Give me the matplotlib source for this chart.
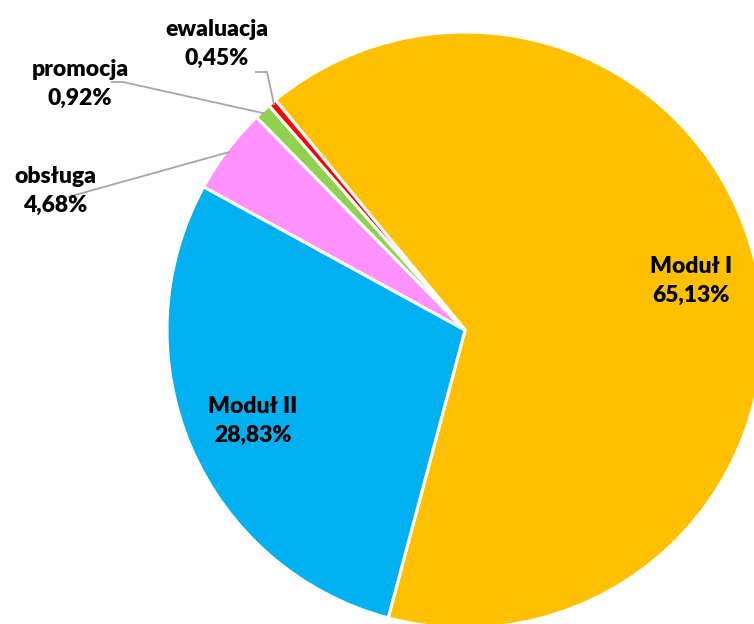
import numpy as np
import matplotlib
matplotlib.use("Agg")
import matplotlib.pyplot as plt

# udział poszczególnych części budżetu (%)
kategorie = ["Moduł I", "Moduł II", "obsługa", "promocja", "ewaluacja"]
udzialy = [65.13, 28.83, 4.68, 0.92, 0.45]
etykiety = ["65,13%", "28,83%", "4,68%", "0,92%", "0,45%"]
kolory = ["#FFC000", "#00B0F0", "#FF92FF", "#92D050", "#FF0000"]

plt.rcParams["font.family"] = ["Lato", "DejaVu Sans"]

W, H, R = 754, 624, 298
cx, cy = 465, 330

fig = plt.figure(figsize=(W / 100, H / 100), dpi=100)
ax = fig.add_axes([0, 0, 1, 1])

wedges, _ = ax.pie(udzialy, colors=kolory, startangle=129.5, counterclock=False,
                   radius=1.0, wedgeprops=dict(edgecolor="white", linewidth=2.2),
                   frame=True)
ax.set_xlim(-cx / R, (W - cx) / R)
ax.set_ylim(-(H - cy) / R, cy / R)
ax.set_aspect("equal")
ax.axis("off")

styl = dict(fontsize=16.5, fontweight="heavy", color="black", ha="center", va="center",
            linespacing=1.5)


def px(x, y):
    # piksele obrazu -> współrzędne osi
    return (x - cx) / R, (cy - y) / R


# duże wycinki - etykiety w środku
for w, kat, et in zip(wedges[:2], kategorie[:2], etykiety[:2]):
    th = np.deg2rad((w.theta1 + w.theta2) / 2)
    ax.text(0.775 * np.cos(th), 0.775 * np.sin(th), f"{kat}\n{et}", **styl)

# małe wycinki - etykiety na zewnątrz z liniami odniesienia
pozycje = {"obsługa": (55, 191), "promocja": (80, 84), "ewaluacja": (217, 44)}
linie = {"obsługa": [(68, 197)],
         "promocja": [(123, 82), (111, 82)],
         "ewaluacja": [(267, 72), (255, 72)]}
for w, kat, et in zip(wedges[2:], kategorie[2:], etykiety[2:]):
    th = np.deg2rad((w.theta1 + w.theta2) / 2)
    pts = [(0.99 * np.cos(th), 0.99 * np.sin(th))] + [px(*p) for p in linie[kat]]
    xs, ys = zip(*pts)
    ax.plot(xs, ys, color="#A6A6A6", linewidth=1.3, solid_capstyle="butt")
    ax.text(*px(*pozycje[kat]), f"{kat}\n{et}", **styl)

fig.savefig("out.png", dpi=100)
